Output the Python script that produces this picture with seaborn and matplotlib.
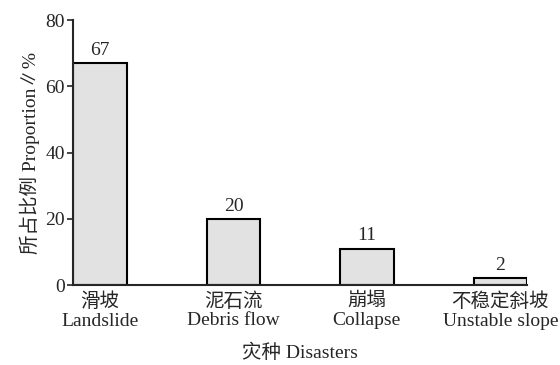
import pandas as pd
import seaborn as sns
import matplotlib.pyplot as plt

# data
categories = ["滑坡\nLandslide", "泥石流\nDebris flow", "崩塌\nCollapse", "不稳定斜坡\nUnstable slope"]
proportions = [67, 20, 11, 2]
y_ticks = [0, 20, 40, 60, 80]

sns.set_style("ticks")
plt.rcParams['font.family'] = ['Liberation Serif', 'Noto Sans CJK SC']

df = pd.DataFrame({"disaster": categories, "proportion": proportions})

fig = plt.figure(figsize=(5.6, 3.65), dpi=100)
ax = fig.add_axes([0.131, 0.219, 0.81, 0.726])

sns.barplot(data=df, x="disaster", y="proportion", ax=ax, width=0.4,
            color="#e2e2e2", saturation=1, edgecolor="black", linewidth=1.5)

for i, v in enumerate(proportions):
    ax.annotate(str(v), (i, v), xytext=(0, 3), textcoords="offset points",
                ha="center", va="bottom", fontsize=14)

ax.set_xlim(-0.2, 3.2)
ax.set_ylim(0, 80)
ax.set_yticks(y_ticks)
ax.tick_params(axis='y', labelsize=14, length=4, width=1.2, direction='out', pad=2)
ax.tick_params(axis='x', labelsize=14, length=0, pad=5)
for lbl in ax.get_xticklabels():
    lbl.set_linespacing(1.15)

ax.set_xlabel("灾种 Disasters", fontsize=14, labelpad=10)
ax.set_ylabel("所占比例 Proportion∥%", fontsize=14, labelpad=4)

sns.despine(ax=ax)
for s in ["left", "bottom"]:
    ax.spines[s].set_linewidth(1.5)

plt.savefig("out.png", dpi=100)
